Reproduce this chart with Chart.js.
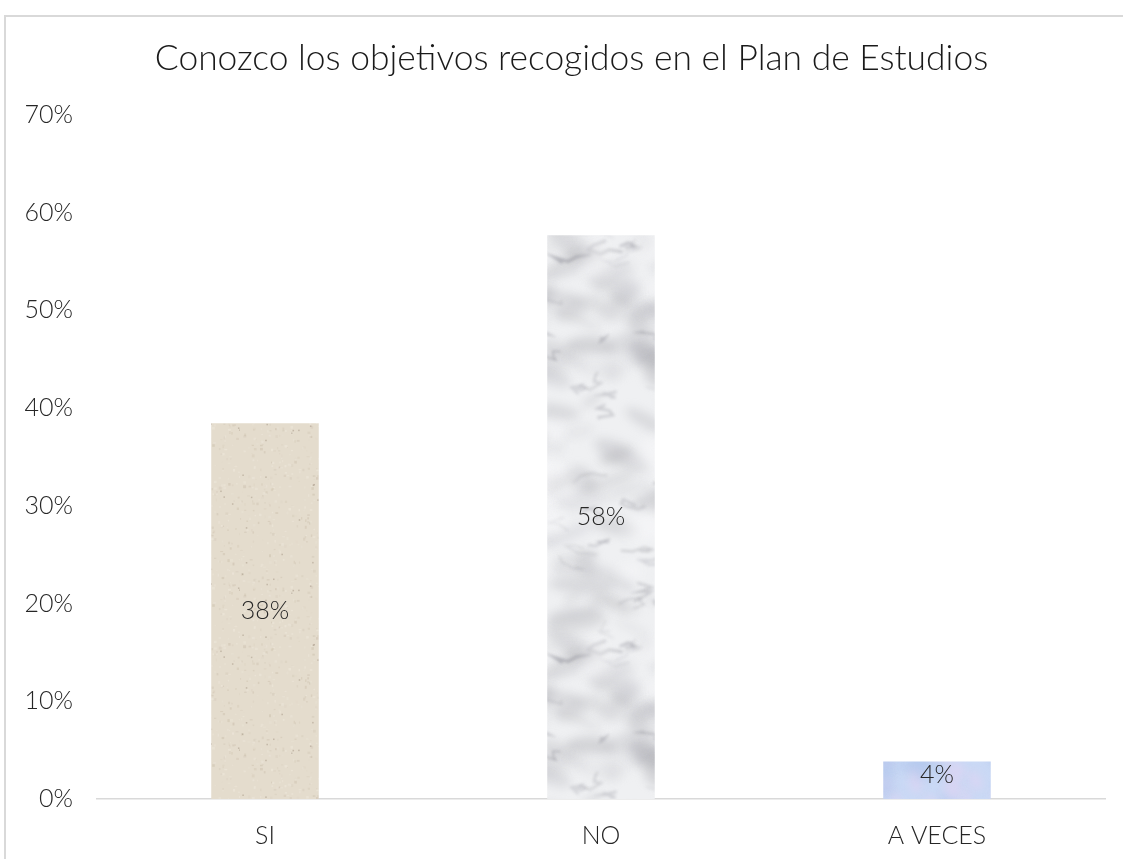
<!DOCTYPE html>
<html>
<head>
<meta charset="utf-8">
<script src="https://cdn.jsdelivr.net/npm/chart.js@4"></script>
<style>
  body { margin: 0; background: #fff; }
  #frame { position: absolute; left: 4px; top: 15px; width: 1140px; height: 870px; border: 2px solid #d9d9d9; box-sizing: border-box; }
  #wrap { position: absolute; left: 0; top: 0; width: 1123px; height: 859px; }
</style>
</head>
<body>
<div id="frame"></div>
<div id="wrap"><canvas id="graphique"></canvas></div>
<script>
  const categories = ["SI", "NO", "A VECES"];
  const values = [38.46, 57.69, 3.85];
  const valueLabels = ["38%", "58%", "4%"];
  const yMax = 70;
  const yStep = 10;
  const chartTitle = "Conozco los objetivos recogidos en el Plan de Estudios";

  // small seeded generator, only for the bar textures
  function rng(seed) {
    let s = seed;
    return function () {
      s = (s * 16807) % 2147483647;
      return (s - 1) / 2147483646;
    };
  }

  // draw a shape on every side so the tile has no seam
  function wrapped(g, w, h, draw) {
    for (const dx of [-w, 0, w]) {
      for (const dy of [-h, 0, h]) {
        g.save();
        g.translate(dx, dy);
        draw();
        g.restore();
      }
    }
  }

  function sandPattern() {
    const c = document.createElement("canvas");
    c.width = 120; c.height = 160;
    const g = c.getContext("2d");
    const r = rng(11);
    g.fillStyle = "#e4dccd";
    g.fillRect(0, 0, c.width, c.height);
    for (let i = 0; i < 500; i++) {
      const a = r() * 0.18;
      g.fillStyle = r() < 0.5 ? `rgba(160,140,115,${a})` : `rgba(250,246,238,${a + 0.1})`;
      g.fillRect(r() * c.width, r() * c.height, 1 + r() * 2, 1 + r() * 2);
    }
    for (let i = 0; i < 25; i++) {
      g.fillStyle = "rgba(120,100,80,0.3)";
      g.fillRect(r() * c.width, r() * c.height, 1.5, 1.5);
    }
    return g.createPattern(c, "repeat");
  }

  function marblePattern() {
    const c = document.createElement("canvas");
    const W = 240, H = 400;
    c.width = W; c.height = H;
    const g = c.getContext("2d");
    const r = rng(7);
    g.fillStyle = "#eff0f2";
    g.fillRect(0, 0, W, H);
    g.filter = "blur(5px)";
    for (let i = 0; i < 110; i++) {
      const gray = 150 + Math.floor(r() * 55);
      const col = `rgba(${gray},${gray},${gray + 6},${0.14 + r() * 0.24})`;
      const x = r() * W, y = r() * H, rx = 8 + r() * 25, ry = 3 + r() * 9, rot = (r() - 0.5) * 1.2;
      wrapped(g, W, H, () => {
        g.fillStyle = col;
        g.beginPath();
        g.ellipse(x, y, rx, ry, rot, 0, Math.PI * 2);
        g.fill();
      });
    }
    g.filter = "blur(1.5px)";
    for (let i = 0; i < 45; i++) {
      const col = `rgba(120,120,130,${0.15 + r() * 0.3})`;
      const lw = 1 + r() * 2;
      const pts = [];
      let x = r() * W, y = r() * H;
      pts.push([x, y]);
      for (let k = 0; k < 5; k++) {
        x += (r() - 0.5) * 30; y += (r() - 0.6) * 12;
        pts.push([x, y]);
      }
      wrapped(g, W, H, () => {
        g.strokeStyle = col;
        g.lineWidth = lw;
        g.beginPath();
        g.moveTo(pts[0][0], pts[0][1]);
        pts.slice(1).forEach(p => g.lineTo(p[0], p[1]));
        g.stroke();
      });
    }
    g.filter = "blur(7px)";
    for (let i = 0; i < 30; i++) {
      const x = r() * W, y = r() * H, rx = 8 + r() * 20, ry = 6 + r() * 14;
      wrapped(g, W, H, () => {
        g.fillStyle = "rgba(250,250,252,0.5)";
        g.beginPath();
        g.ellipse(x, y, rx, ry, 0, 0, Math.PI * 2);
        g.fill();
      });
    }
    return g.createPattern(c, "repeat");
  }

  function bluePattern() {
    const c = document.createElement("canvas");
    const W = 160, H = 80;
    c.width = W; c.height = H;
    const g = c.getContext("2d");
    const r = rng(3);
    g.fillStyle = "#cad9f5";
    g.fillRect(0, 0, W, H);
    g.filter = "blur(4px)";
    for (let i = 0; i < 40; i++) {
      const col = r() < 0.45 ? "rgba(228,212,242,0.55)" : "rgba(178,200,238,0.45)";
      const x = r() * W, y = r() * H, rx = 5 + r() * 14, ry = 3 + r() * 8, rot = r() * 3;
      wrapped(g, W, H, () => {
        g.fillStyle = col;
        g.beginPath();
        g.ellipse(x, y, rx, ry, rot, 0, Math.PI * 2);
        g.fill();
      });
    }
    return g.createPattern(c, "repeat");
  }

  const FONT = "Lato";

  const barLabels = {
    id: "barLabels",
    afterDatasetsDraw(chart) {
      const ctx = chart.ctx;
      const meta = chart.getDatasetMeta(0);
      ctx.save();
      ctx.font = `300 25px ${FONT}`;
      ctx.fillStyle = "#262626";
      ctx.textAlign = "center";
      ctx.textBaseline = "middle";
      meta.data.forEach((bar, i) => {
        const y = Math.min((bar.y + bar.base) / 2, bar.base - 24);
        ctx.fillText(valueLabels[i], bar.x, y);
      });
      ctx.restore();
    }
  };

  // title sits a little right of the canvas centre, as in the original
  const offsetTitle = {
    id: "offsetTitle",
    afterDraw(chart) {
      const ctx = chart.ctx;
      ctx.save();
      ctx.font = `300 35.4px ${FONT}`;
      ctx.fillStyle = "#1a1a1a";
      ctx.textAlign = "center";
      ctx.textBaseline = "middle";
      ctx.fillText(chartTitle, chart.width / 2 + 10, 59);
      ctx.restore();
    }
  };

  const ctx = document.getElementById("graphique").getContext("2d");
  new Chart(ctx, {
    type: "bar",
    data: {
      labels: categories,
      datasets: [{
        data: values,
        backgroundColor: [sandPattern(), marblePattern(), bluePattern()],
        borderWidth: 0,
        barPercentage: 0.32,
        categoryPercentage: 1
      }]
    },
    options: {
      responsive: true,
      maintainAspectRatio: false,
      animation: false,
      layout: { padding: { left: 0, right: 18, top: 115, bottom: 0 } },
      plugins: {
        legend: { display: false },
        tooltip: { enabled: false },
        title: { display: false }
      },
      scales: {
        x: {
          grid: { display: false, drawTicks: false },
          border: { display: true, color: "#d9d9d9", width: 1.5 },
          ticks: { color: "#262626", font: { family: FONT, size: 25, weight: "300" }, padding: 22 },
          afterFit(scale) { scale.height = 60; }
        },
        y: {
          min: 0,
          max: yMax,
          grid: { display: false, drawTicks: false },
          border: { display: false },
          ticks: {
            stepSize: yStep,
            color: "#262626",
            font: { family: FONT, size: 25, weight: "300" },
            padding: 24,
            callback: v => v + "%"
          },
          afterFit(scale) { scale.width = 97; }
        }
      }
    },
    plugins: [barLabels, offsetTitle]
  });
</script>
</body>
</html>
